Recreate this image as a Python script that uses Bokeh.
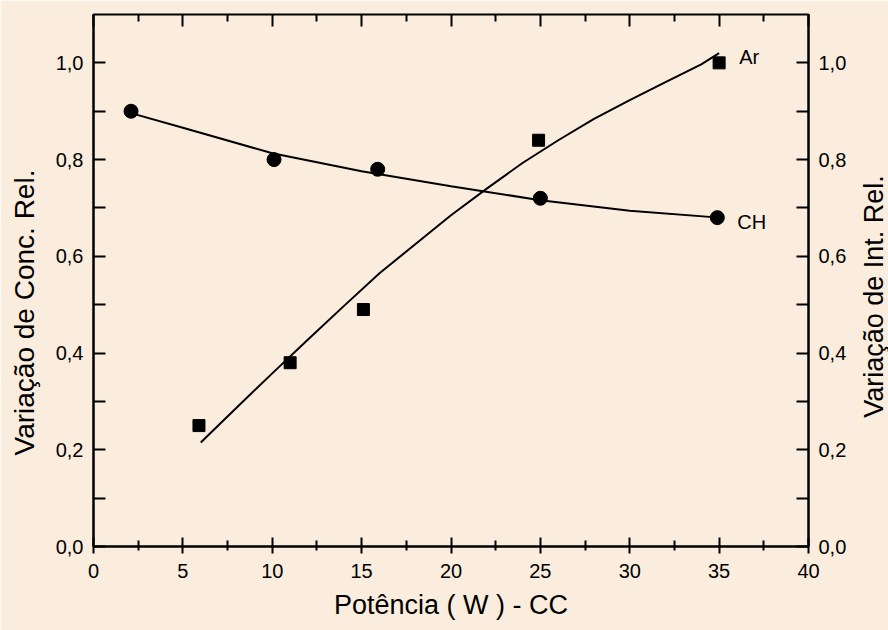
import math
from bokeh.plotting import figure
from bokeh.models import (Range1d, LinearAxis, FixedTicker, Label)
from bokeh.core.properties import value
from bokeh.embed import file_html
from bokeh.resources import INLINE

# ---- data ----
ch_x = [2.1, 10.1, 15.9, 25.0, 34.9]
ch_y = [0.90, 0.80, 0.78, 0.72, 0.68]
ar_x = [5.9, 11.0, 15.1, 24.9, 35.0]
ar_y = [0.25, 0.38, 0.49, 0.84, 1.00]

ch_fit_x = [2.2, 5, 10, 15, 20, 25, 30, 35]
ch_fit_y = [0.895, 0.866, 0.813, 0.776, 0.745, 0.716, 0.694, 0.680]
ar_fit_x = [6, 8, 10, 12, 14, 16, 18, 20, 22, 24, 26, 28, 30, 32, 34, 35]
ar_fit_y = [0.215, 0.287, 0.358, 0.428, 0.497, 0.565, 0.625, 0.685, 0.740,
            0.793, 0.840, 0.884, 0.923, 0.960, 0.997, 1.020]

x_ticks = [0, 5, 10, 15, 20, 25, 30, 35, 40]
x_minor = [2.5, 7.5, 12.5, 17.5, 22.5, 27.5, 32.5, 37.5]
y_ticks = [0.0, 0.2, 0.4, 0.6, 0.8, 1.0]
y_minor = [0.1, 0.3, 0.5, 0.7, 0.9]
y_tick_labels = ["0,0", "0,2", "0,4", "0,6", "0,8", "1,0"]

series_names = ["CH", "Ar"]

x_title = "Potência ( W ) - CC"
y_left_title = "Variação de Conc. Rel."
y_right_title = "Variação de Int. Rel."

BG = "#faeddd"
FONT = "Liberation Sans"

p = figure(width=888, height=630, output_backend="svg", toolbar_location=None,
           x_range=Range1d(0, 40), y_range=Range1d(0, 1.1),
           background_fill_color=BG, border_fill_color=BG,
           min_border_left=93, min_border_right=80, min_border_top=14,
           min_border_bottom=84)
p.xgrid.visible = False
p.ygrid.visible = False
p.outline_line_color = "black"
p.outline_line_width = 2
p.extra_y_ranges = {"r": Range1d(0, 1.1)}

ylab = {t: l for t, l in zip(y_ticks, y_tick_labels)}

def style(ax, tick_in, tick_out, minor_in, minor_out, standoff):
    ax.axis_line_color = "black"
    ax.axis_line_width = 2
    ax.major_tick_line_color = "black"
    ax.major_tick_line_width = 2
    ax.minor_tick_line_color = "black"
    ax.minor_tick_line_width = 2
    ax.major_tick_in = tick_in
    ax.major_tick_out = tick_out
    ax.minor_tick_in = minor_in
    ax.minor_tick_out = minor_out
    ax.major_label_text_font = FONT
    ax.major_label_text_font_size = "20px"
    ax.major_label_text_color = "black"
    ax.major_label_standoff = standoff
    ax.axis_label_text_font = FONT
    ax.axis_label_text_font_size = "27px"
    ax.axis_label_text_font_style = "normal"
    ax.axis_label_text_color = "black"

xa = p.xaxis[0]
xa.ticker = FixedTicker(ticks=x_ticks, minor_ticks=x_minor)
style(xa, 9, 7, 6, 4, 10)
xa.axis_label = x_title
xa.axis_label_standoff = 9

ya = p.yaxis[0]
ya.ticker = FixedTicker(ticks=y_ticks, minor_ticks=y_minor)
ya.major_label_overrides = ylab
style(ya, 12, 0, 12, 0, 10)

yr = LinearAxis(y_range_name="r", ticker=FixedTicker(ticks=y_ticks, minor_ticks=y_minor))
yr.major_label_overrides = ylab
style(yr, 12, 0, 12, 0, 10)
p.add_layout(yr, "right")

xt = LinearAxis(ticker=FixedTicker(ticks=x_ticks, minor_ticks=x_minor))
style(xt, 12, 0, 7, 0, 0)
xt.major_label_overrides = {t: "" for t in x_ticks}
xt.axis_line_color = None
p.add_layout(xt, "above")

# vertical axis titles (both read bottom-to-top, as in the reference)
p.add_layout(Label(x=3, y=234, x_units="screen", y_units="screen",
                   text=y_left_title, angle=math.pi / 2, text_align="center",
                   text_baseline="middle", text_font=FONT, text_font_size="28px",
                   text_color="black"), "left")
p.add_layout(Label(x=24, y=250, x_units="screen", y_units="screen",
                   text=y_right_title, angle=math.pi / 2, text_align="center",
                   text_baseline="middle", text_font=FONT, text_font_size="27px",
                   text_color="black"), "right")

# fit curves
p.line(ch_fit_x, ch_fit_y, line_color="black", line_width=2)
p.line(ar_fit_x, ar_fit_y, line_color="black", line_width=2)

# points
p.scatter(ch_x, ch_y, marker="circle", size=14, fill_color="black", line_color="black")
p.scatter(ar_x, ar_y, marker="square", size=12, fill_color="black", line_color="black")

# series labels next to last points
p.text(x=[ar_x[-1]], y=[ar_y[-1]], text=[series_names[1]], x_offset=20, y_offset=-6,
       text_font=value(FONT), text_font_size="20px", text_baseline="middle",
       text_color="black")
p.text(x=[ch_x[-1]], y=[ch_y[-1]], text=[series_names[0]], x_offset=20, y_offset=4,
       text_font=value(FONT), text_font_size="20px", text_baseline="middle",
       text_color="black")

open("out.html", "w").write(file_html(p, INLINE))
